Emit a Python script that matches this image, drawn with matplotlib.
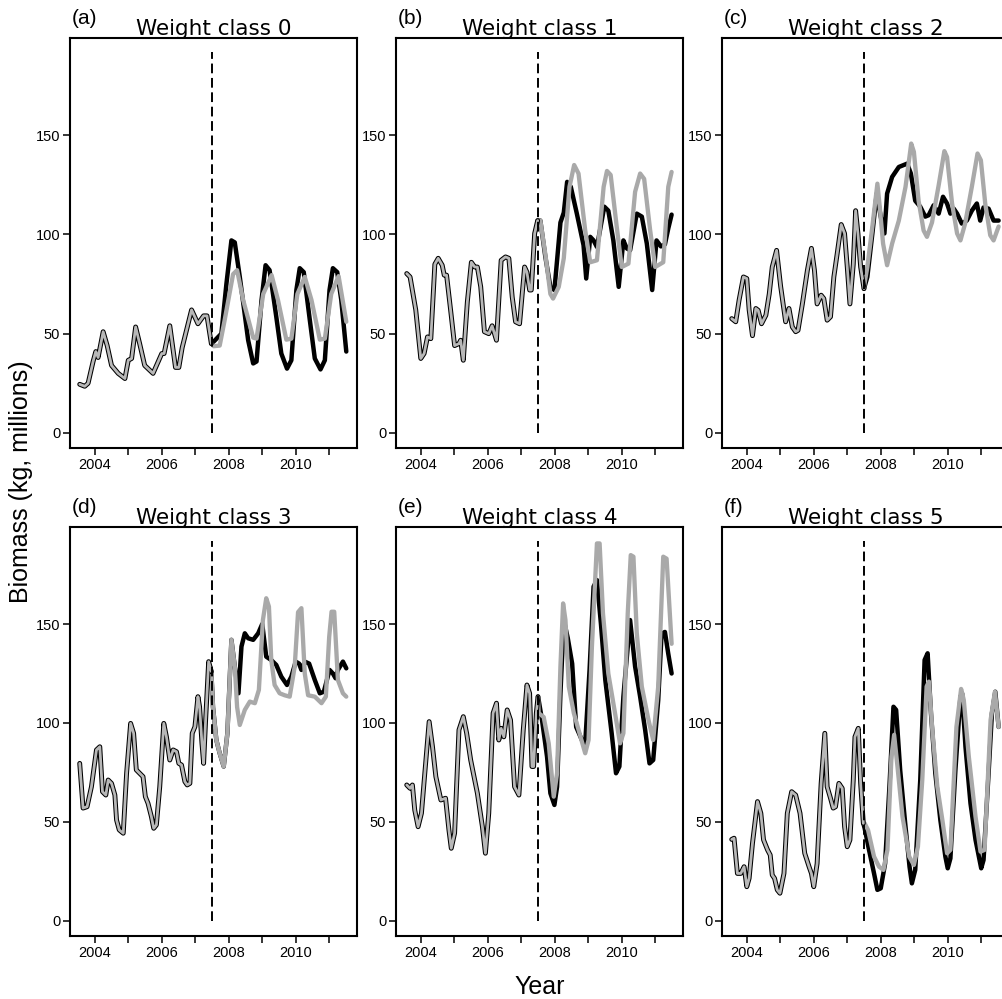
import matplotlib
matplotlib.use("Agg")
import matplotlib.pyplot as plt
import numpy as np

plt.rcParams['font.family'] = ['Liberation Sans', 'DejaVu Sans']

# ---------------- data ----------------
titles = ["Weight class 0", "Weight class 1", "Weight class 2",
          "Weight class 3", "Weight class 4", "Weight class 5"]
panel_tags = ["(a)", "(b)", "(c)", "(d)", "(e)", "(f)"]
year_ticks = [2004, 2005, 2006, 2007, 2008, 2009, 2010, 2011]
year_labels = ["2004", "", "2006", "", "2008", "", "2010", ""]
y_ticks = [0, 50, 100, 150]
split_year = 2007.5
split_span = [0, 192]

# panel a
a_obs_t = [2003.55, 2003.70, 2003.80, 2003.95, 2004.03, 2004.10, 2004.25, 2004.37, 2004.50, 2004.70,
           2004.90, 2005.00, 2005.10, 2005.22, 2005.34, 2005.49, 2005.74, 2006.00, 2006.07, 2006.24,
           2006.41, 2006.51, 2006.61, 2006.89, 2007.08, 2007.25, 2007.35, 2007.48]
a_obs_v = [24.5, 23.5, 25, 36, 41, 38, 51, 44, 34, 30,
           27.4, 36.6, 37.5, 53.4, 45, 34, 30, 40, 40, 54,
           33, 33, 43, 62, 55, 59, 59, 45]
a_blk_t = [2007.48, 2007.55, 2007.78, 2007.93, 2008.08, 2008.18, 2008.33, 2008.58, 2008.73, 2008.83,
           2008.98, 2009.10, 2009.22, 2009.42, 2009.57, 2009.74, 2009.87, 2010.02, 2010.12, 2010.24,
           2010.42, 2010.57, 2010.74, 2010.87, 2011.01, 2011.11, 2011.24, 2011.36, 2011.51]
a_blk_v = [45, 46, 50, 75, 97, 96, 78.6, 46.7, 35, 36,
           67, 84.5, 82, 58.5, 40, 32.4, 36.6, 72, 83, 81,
           57, 37.5, 32, 36.6, 72, 83, 81, 67, 41]
a_gry_t = [2007.48, 2007.55, 2007.73, 2007.88, 2008.13, 2008.25, 2008.43, 2008.73, 2008.83, 2009.03,
           2009.28, 2009.47, 2009.72, 2009.87, 2010.05, 2010.27, 2010.47, 2010.72, 2010.87, 2011.06,
           2011.28, 2011.51]
a_gry_v = [45, 43.7, 44, 57, 80, 82, 67, 48, 47.5, 70,
           79.5, 67, 47, 47.5, 70, 78.6, 67, 47, 47.5, 70,
           79, 56]

# panel b
b_obs_t = [2003.58, 2003.68, 2003.85, 2004.00, 2004.10, 2004.20, 2004.30, 2004.42, 2004.52, 2004.64,
           2004.70, 2004.77, 2004.89, 2005.01, 2005.14, 2005.19, 2005.27, 2005.39, 2005.51, 2005.61,
           2005.69, 2005.79, 2005.90, 2006.03, 2006.13, 2006.26, 2006.40, 2006.53, 2006.63, 2006.73,
           2006.83, 2006.95, 2007.10, 2007.17, 2007.25, 2007.30, 2007.40, 2007.49]
b_obs_v = [80.3, 78.6, 62, 37.5, 40, 48.4, 47.5, 85, 88, 84.5,
           79.5, 79.5, 62, 44, 45, 46.7, 36.6, 66, 86, 83.6,
           83.6, 73.6, 51, 50, 54, 46.7, 87, 88.7, 88, 68.5,
           56, 55, 83.6, 81, 72, 72, 100.5, 107]
b_blk_t = [2007.49, 2007.57, 2007.72, 2007.87, 2007.99, 2008.07, 2008.17, 2008.27, 2008.37, 2008.48,
           2008.66, 2008.86, 2008.94, 2009.06, 2009.16, 2009.26, 2009.48, 2009.60, 2009.75, 2009.91,
           2010.05, 2010.15, 2010.25, 2010.45, 2010.60, 2010.75, 2010.91, 2011.04, 2011.17, 2011.29,
           2011.39, 2011.49]
b_blk_v = [107, 107, 88.7, 73.6, 72, 87, 106, 111, 126.5, 124,
           110.5, 94.6, 77.8, 98.8, 97, 93.7, 114, 112, 97, 73.6,
           97, 93, 92, 110.5, 109, 95.4, 72, 97, 94, 95,
           103, 110]
b_gry_t = [2007.49, 2007.57, 2007.72, 2007.87, 2007.95, 2008.12, 2008.27, 2008.44, 2008.58, 2008.71,
           2008.91, 2009.06, 2009.26, 2009.46, 2009.56, 2009.67, 2009.85, 2010.00, 2010.20, 2010.40,
           2010.55, 2010.67, 2010.85, 2011.00, 2011.24, 2011.39, 2011.49]
b_gry_v = [107, 107, 90, 70, 67.7, 73.6, 88, 124, 135, 130.7,
           102, 86, 87, 124, 132, 130, 104, 83.6, 85.3, 121.5,
           130.7, 128, 102, 83.6, 86, 124, 131.5]

# panel c
c_obs_t = [2003.55, 2003.67, 2003.77, 2003.90, 2004.00, 2004.07, 2004.17, 2004.27, 2004.34, 2004.44,
           2004.57, 2004.67, 2004.76, 2004.89, 2005.01, 2005.16, 2005.26, 2005.36, 2005.46, 2005.53,
           2005.66, 2005.81, 2005.93, 2006.02, 2006.10, 2006.22, 2006.30, 2006.40, 2006.50, 2006.60,
           2006.70, 2006.82, 2006.92, 2007.00, 2007.08, 2007.18, 2007.25, 2007.32, 2007.40, 2007.50]
c_obs_v = [57.6, 56, 66.9, 78.6, 77.8, 62, 49, 62.7, 61.8, 55,
           59.3, 70, 83.6, 92, 74, 56, 62.7, 53.4, 51, 51.7,
           65, 82, 93, 82, 65, 69.4, 67.7, 56.8, 58.5, 78.6,
           90.4, 105, 100.5, 83.6, 65, 85, 112, 100.5, 83.6, 72.7]
c_blk_t = [2007.50, 2007.60, 2007.75, 2007.88, 2008.00, 2008.11, 2008.19, 2008.34, 2008.54, 2008.79,
           2008.90, 2009.03, 2009.18, 2009.33, 2009.43, 2009.58, 2009.73, 2009.86, 2009.98, 2010.08,
           2010.18, 2010.28, 2010.42, 2010.57, 2010.72, 2010.87, 2010.97, 2011.07, 2011.22, 2011.37,
           2011.52]
c_blk_v = [72.7, 78.6, 100.5, 120.6, 109, 100.5, 120.6, 129, 134, 135.7,
           130.7, 117, 114, 109, 109.7, 114.7, 110.5, 119, 115.6, 110.5,
           113, 110.5, 105.5, 107, 112, 115.6, 107, 113.6, 113, 107,
           107]
c_gry_t = [2007.50, 2007.60, 2007.75, 2007.90, 2007.97, 2008.07, 2008.19, 2008.34, 2008.54, 2008.74,
           2008.91, 2008.99, 2009.13, 2009.28, 2009.38, 2009.53, 2009.73, 2009.90, 2009.98, 2010.13,
           2010.28, 2010.38, 2010.52, 2010.72, 2010.89, 2010.99, 2011.12, 2011.27, 2011.37, 2011.52]
c_gry_v = [73.6, 83.6, 104, 125.6, 114, 95.4, 84.5, 95.4, 107, 124,
           145.8, 141.6, 117, 102, 98.8, 106, 124.8, 142, 139, 115.6,
           100.5, 97, 105.5, 124, 140.8, 137.4, 115.6, 99.6, 97, 104]

# panel d
d_obs_t = [2003.55, 2003.65, 2003.77, 2003.90, 2004.05, 2004.15, 2004.23, 2004.33, 2004.40, 2004.50,
           2004.60, 2004.65, 2004.73, 2004.85, 2004.95, 2005.07, 2005.16, 2005.24, 2005.34, 2005.44,
           2005.51, 2005.59, 2005.69, 2005.76, 2005.84, 2005.94, 2006.06, 2006.14, 2006.24, 2006.34,
           2006.44, 2006.51, 2006.59, 2006.69, 2006.76, 2006.84, 2006.91, 2006.99, 2007.08, 2007.13,
           2007.20, 2007.25, 2007.31, 2007.40, 2007.48]
d_obs_v = [79.6, 57, 57.7, 67.8, 86.4, 88, 65.3, 63.6, 71.2, 69.5,
           63.6, 51, 46, 44.3, 74.6, 99.8, 94.8, 76.3, 74.6, 72.9,
           62.8, 59.4, 52.7, 46.8, 48.5, 67.8, 99.8, 93, 81.3, 86.4,
           85.5, 79.6, 78.8, 70.4, 68.7, 69.5, 94.8, 98.1, 113.3, 108.2,
           89.7, 79.6, 101.5, 131, 126]
d_blk_t = [2007.48, 2007.53, 2007.63, 2007.73, 2007.85, 2007.96, 2008.08, 2008.18, 2008.29, 2008.38,
           2008.48, 2008.58, 2008.73, 2008.88, 2009.00, 2009.12, 2009.27, 2009.42, 2009.57, 2009.74,
           2009.87, 2010.00, 2010.10, 2010.17, 2010.27, 2010.40, 2010.57, 2010.72, 2010.84, 2011.01,
           2011.11, 2011.19, 2011.26, 2011.41, 2011.51]
d_blk_v = [126, 108, 91.4, 84.7, 78, 94.8, 142, 128.5, 115, 138.6,
           145.3, 142.8, 142, 145.3, 150, 133.5, 131.8, 129.3, 123.4, 119.2,
           123.4, 131, 130, 126.8, 131, 130, 121.7, 115, 115.8, 126.8,
           125, 122.6, 126.8, 131, 127.6]
d_gry_t = [2007.48, 2007.53, 2007.63, 2007.73, 2007.85, 2007.96, 2008.08, 2008.18, 2008.25, 2008.33,
           2008.48, 2008.63, 2008.78, 2008.90, 2009.02, 2009.12, 2009.20, 2009.27, 2009.37, 2009.52,
           2009.67, 2009.82, 2009.97, 2010.07, 2010.17, 2010.27, 2010.37, 2010.57, 2010.77, 2010.90,
           2011.00, 2011.07, 2011.15, 2011.26, 2011.41, 2011.51]
d_gry_v = [126, 108, 91.4, 84.7, 78, 94.8, 142, 128.5, 108, 99,
           106.6, 110.8, 110, 116.7, 152, 163, 158.8, 131.8, 119.2, 115,
           114, 113.3, 128.5, 156, 158, 125, 114, 113.3, 110, 113.3,
           143.6, 156.2, 156.2, 121.7, 115, 113.3]

# panel e
e_obs_t = [2003.58, 2003.68, 2003.75, 2003.82, 2003.92, 2004.02, 2004.12, 2004.25, 2004.35, 2004.45,
           2004.60, 2004.74, 2004.84, 2004.91, 2005.01, 2005.14, 2005.27, 2005.37, 2005.49, 2005.69,
           2005.84, 2005.93, 2006.03, 2006.16, 2006.26, 2006.33, 2006.40, 2006.48, 2006.58, 2006.68,
           2006.80, 2006.93, 2007.06, 2007.17, 2007.25, 2007.32, 2007.37, 2007.45, 2007.50]
e_obs_v = [68.7, 67, 68.7, 56, 47.6, 54.4, 74.6, 100.7, 88, 72.9,
           61.1, 62, 46, 36.7, 44.3, 96.5, 103.2, 94.8, 81.3, 64.5,
           47.6, 34.2, 54.4, 105, 110, 91.4, 97.3, 93, 106.6, 101.5,
           67.8, 63.6, 96.5, 119.2, 115, 78, 78, 105, 113.3]
e_blk_t = [2007.50, 2007.52, 2007.62, 2007.77, 2007.87, 2007.99, 2008.07, 2008.17, 2008.27, 2008.39,
           2008.52, 2008.64, 2008.81, 2008.91, 2009.04, 2009.16, 2009.26, 2009.38, 2009.51, 2009.70,
           2009.83, 2009.93, 2010.05, 2010.25, 2010.40, 2010.55, 2010.70, 2010.83, 2010.94, 2011.09,
           2011.19, 2011.29, 2011.39, 2011.49]
e_blk_v = [113.3, 111.6, 101.5, 83, 64.5, 58.6, 67.8, 115, 152, 142.8,
           130, 98, 91.4, 89.7, 126.8, 168.9, 172.2, 150, 121.7, 94.8,
           74.6, 78, 113.3, 152, 128.5, 113.3, 96.5, 79.6, 81.3, 111.6,
           145, 146, 135, 125]
e_gry_t = [2007.50, 2007.52, 2007.67, 2007.82, 2007.97, 2008.07, 2008.17, 2008.25, 2008.32, 2008.42,
           2008.57, 2008.77, 2008.91, 2009.01, 2009.11, 2009.26, 2009.34, 2009.44, 2009.60, 2009.80,
           2009.95, 2010.05, 2010.18, 2010.27, 2010.35, 2010.45, 2010.60, 2010.80, 2010.94, 2011.09,
           2011.24, 2011.34, 2011.49]
e_gry_v = [113.3, 105, 103, 89.7, 62.8, 74.6, 128.5, 160.4, 152, 118.4,
           105, 93, 84.7, 91.4, 138.6, 190.7, 190.7, 155.4, 125, 105,
           89.7, 94.8, 155.4, 184.8, 184, 145.3, 118.4, 101.5, 91.4, 118.4,
           184, 183, 140]

# panel f
f_obs_t = [2003.55, 2003.62, 2003.72, 2003.82, 2003.92, 2004.00, 2004.07, 2004.17, 2004.32, 2004.42,
           2004.50, 2004.62, 2004.70, 2004.76, 2004.83, 2004.91, 2004.99, 2005.11, 2005.21, 2005.34,
           2005.46, 2005.59, 2005.73, 2005.86, 2005.93, 2006.00, 2006.10, 2006.22, 2006.33, 2006.40,
           2006.50, 2006.58, 2006.65, 2006.75, 2006.85, 2006.92, 2007.00, 2007.08, 2007.18, 2007.23,
           2007.33, 2007.40, 2007.48]
f_obs_v = [41.2, 41.8, 24, 24, 27.4, 17.3, 21.5, 39.2, 60.3, 54.4,
           41, 35.9, 33.3, 23.2, 21.5, 15.7, 14, 24, 54.4, 65.3,
           63.6, 54.4, 34.2, 27.4, 24, 17.3, 29, 69.5, 94.8, 67.8,
           62, 57, 57.7, 69.5, 67, 47.6, 37.5, 40.9, 71.2, 93,
           97.3, 69.5, 49.3]
f_blk_t = [2007.48, 2007.52, 2007.65, 2007.80, 2007.90, 2008.00, 2008.13, 2008.26, 2008.38, 2008.46,
           2008.58, 2008.73, 2008.86, 2008.93, 2009.03, 2009.18, 2009.31, 2009.40, 2009.50, 2009.63,
           2009.78, 2009.93, 2010.00, 2010.08, 2010.23, 2010.38, 2010.43, 2010.53, 2010.68, 2010.83,
           2011.00, 2011.07, 2011.22, 2011.32, 2011.42, 2011.52]
f_blk_v = [49.3, 46.8, 35.9, 24, 15.7, 16.5, 29, 67.8, 108.2, 106.6,
           76.3, 49.3, 27.4, 19, 25.8, 71.2, 131.8, 135.2, 104.9, 74.6,
           51, 32.5, 26.6, 31.6, 76.3, 113.3, 115, 88, 59.4, 41,
           26.6, 30.8, 74.6, 104.9, 115.8, 98]
f_gry_t = [2007.48, 2007.52, 2007.62, 2007.80, 2007.95, 2008.08, 2008.20, 2008.32, 2008.40, 2008.50,
           2008.65, 2008.85, 2008.99, 2009.11, 2009.24, 2009.37, 2009.44, 2009.54, 2009.69, 2009.84,
           2009.98, 2010.08, 2010.26, 2010.40, 2010.48, 2010.63, 2010.83, 2010.98, 2011.10, 2011.28,
           2011.41, 2011.52]
f_gry_v = [49.3, 49.3, 46, 32.5, 27.4, 25.8, 35.9, 83, 94, 78,
           52.7, 32.5, 28.3, 37.5, 71.2, 118.4, 120.9, 96.5, 67.8, 51,
           34.2, 35.9, 98, 117.2, 111.6, 83, 52.7, 35, 35.9, 101.5,
           115.8, 98]

panels = [
    (a_obs_t, a_obs_v, a_blk_t, a_blk_v, a_gry_t, a_gry_v),
    (b_obs_t, b_obs_v, b_blk_t, b_blk_v, b_gry_t, b_gry_v),
    (c_obs_t, c_obs_v, c_blk_t, c_blk_v, c_gry_t, c_gry_v),
    (d_obs_t, d_obs_v, d_blk_t, d_blk_v, d_gry_t, d_gry_v),
    (e_obs_t, e_obs_v, e_blk_t, e_blk_v, e_gry_t, e_gry_v),
    (f_obs_t, f_obs_v, f_blk_t, f_blk_v, f_gry_t, f_gry_v),
]

# ---------------- layout ----------------
W, H = 1002, 999
fig = plt.figure(figsize=(W / 100, H / 100), dpi=100)

col_left = [70, 396, 722]
ax_w = 287
row_top = [38, 527]
ax_h = [410, 409]

GRAY = "#a9a9a9"
INNER = "#b8b8b8"

for i, (ot, ov, bt, bv, gt, gv) in enumerate(panels):
    r, c = divmod(i, 3)
    l = col_left[c]
    t = row_top[r]
    h = ax_h[r]
    ax = fig.add_axes([l / W, 1 - (t + h) / H, ax_w / W, h / H])

    kw = dict(solid_joinstyle="round", solid_capstyle="round")
    ax.plot(bt, bv, color="black", lw=3.2, zorder=3, **kw)
    ax.plot(gt, gv, color=GRAY, lw=3.1, zorder=4, **kw)
    ax.plot(ot, ov, color="black", lw=3.5, zorder=5, **kw)
    ax.plot(ot, ov, color=INNER, lw=2.0, zorder=6, **kw)
    ax.plot([split_year, split_year], split_span, color="black", lw=1.4,
            ls=(0, (5, 2.4)), zorder=7)

    ax.set_xlim(2003.26, 2011.83)
    ax.set_ylim(-7.6, 199)
    ax.set_xticks(year_ticks)
    ax.set_xticklabels(year_labels)
    ax.set_yticks(y_ticks)
    ax.tick_params(direction="out", length=5, width=1.1, labelsize=10.5, pad=2)
    for s in ax.spines.values():
        s.set_linewidth(1.5)

    ax.text(0.5, 1 + 3 / h, titles[i], transform=ax.transAxes, ha="center",
            va="baseline", fontsize=15.5, family=["DejaVu Sans"])
    ax.text(0.005, 1 + 14 / h, panel_tags[i], transform=ax.transAxes, ha="left",
            va="baseline", fontsize=15)

fig.text(21 / W, 1 - 482 / H, "Biomass (kg, millions)", rotation=90,
         ha="center", va="center", fontsize=18)
fig.text(540 / W, 5 / H, "Year", ha="center", va="baseline", fontsize=18)

fig.savefig("out.png", dpi=100)
